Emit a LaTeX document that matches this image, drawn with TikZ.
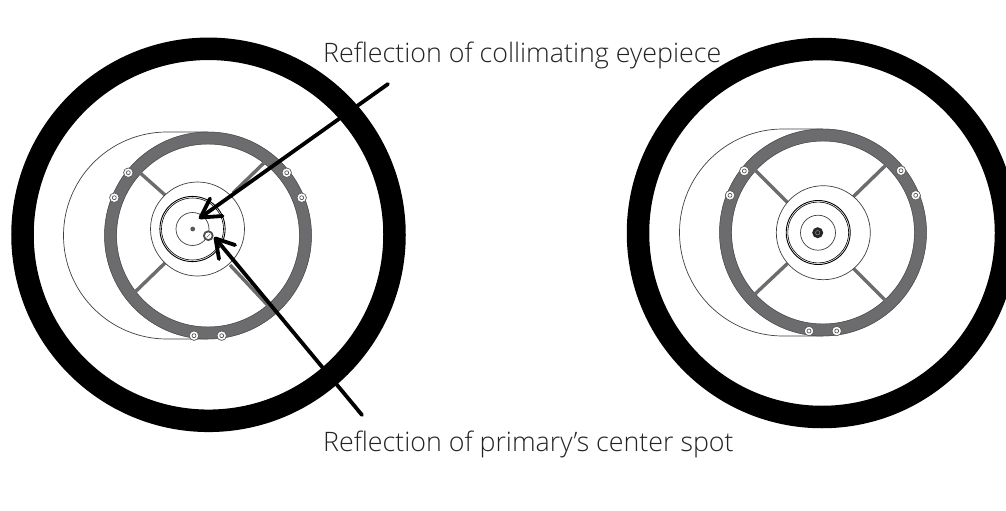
\documentclass[tikz,border=0pt]{standalone}
\usepackage{fontspec}
\setmainfont{Open Sans}[UprightFont=* Light]
\definecolor{ringgray}{RGB}{108,108,110}
\definecolor{labelgray}{RGB}{35,35,35}
\tikzset{
  x=1pt,y=-1pt,
  bigring/.style={draw=black,line width=22.5pt},
  thin line/.style={draw=black!75,line width=0.7pt},
  grayring/.style={draw=ringgray,line width=12.4pt},
  spoke/.style={draw=ringgray,line width=3.4pt},
  screw/.style={circle,draw=black!65,fill=white,line width=0.7pt,minimum size=9.5pt,inner sep=0pt},
  arrowline/.style={draw=black,line width=3.8pt,line cap=round,line join=round},
  lbl/.style={inner sep=0pt,anchor=base west,text=labelgray,font=\fontsize{26.8}{30}\selectfont}
}
\newcommand{\screwat}[2]{\node[screw] at (#1,#2) {}; \draw[black!65,line width=0.7pt] (#1,#2) circle (2);}
\newcommand{\assembly}[7]{%
 \draw[thin line] (#1,#2-103.5) -- (#7,#2-103.5) arc[start angle=-90,end angle=-270,radius=103.5] -- (#1,#2+103.5);
 \fill[white] (#1,#2) circle (103);
 \draw[grayring] (#1,#2) circle (97.5);
 \draw[black!70,line width=0.5pt] (#1,#2) circle (103.5);
 \draw[black!70,line width=0.5pt] (#1,#2) circle (91.5);
}
\begin{document}
\begin{tikzpicture}
\useasboundingbox (0,0) rectangle (1006,511);
\fill[white] (0,0) rectangle (1006,511);
% black tube rings
\draw[bigring] (208.5,234.8) circle (186);
\begin{scope}
\clip (0,0) rectangle (1006,511);
\draw[bigring] (822,233) circle (184);
\end{scope}

% left assembly
\assembly{208}{235.5}{197.5}{229}{192.5}{229}{167}
\coordinate (lsUL) at (138,171); \coordinate (lsULe) at (165,195);
\coordinate (lsLL) at (133,294); \coordinate (lsLLe) at (165,263);
\coordinate (lsUR) at (267,160); \coordinate (lsURe) at (233,193);
\coordinate (lsLR) at (274,312); \coordinate (lsLRe) at (230,265);
\draw[spoke] (lsUL) -- (lsULe);
\draw[spoke] (lsLL) -- (lsLLe);
\draw[spoke] (lsUR) -- (lsURe);
\draw[spoke] (lsLR) -- (lsLRe);
\draw[thin line,fill=white] (197.5,229) circle (47);
\draw[black,line width=0.9pt] (192.5,229) circle (32.6);
\draw[black,line width=0.6pt] (192.5,229) circle (31);
\draw[thin line] (192.5,229) circle (16.5);
\fill[black!65] (192.7,229) circle (2.4);
\draw[black!70,line width=1.8pt,fill=white] (208.3,235.7) circle (4.4);
\draw[black!60,line width=0.6pt] (206.5,237.5) -- (210,234);
\screwat{128.3}{172.7}\screwat{114.3}{197.7}\screwat{286.7}{172.7}\screwat{301.7}{197.7}\screwat{194}{335.7}\screwat{221.7}{335.7}

% right assembly
\assembly{823}{232.5}{823.3}{232.7}{818}{232.5}{783}
\coordinate (rsUL) at (754,169); \coordinate (rsULe) at (788,203);
\coordinate (rsLL) at (754,295); \coordinate (rsLLe) at (788,263);
\coordinate (rsUR) at (887,164); \coordinate (rsURe) at (853,197);
\coordinate (rsLR) at (887,302); \coordinate (rsLRe) at (853,268);
\draw[spoke] (rsUL) -- (rsULe);
\draw[spoke] (rsLL) -- (rsLLe);
\draw[spoke] (rsUR) -- (rsURe);
\draw[spoke] (rsLR) -- (rsLRe);
\draw[thin line,fill=white] (823.3,232.7) circle (47);
\draw[black,line width=0.9pt] (818.2,232.5) circle (32);
\draw[black,line width=0.6pt] (818.2,232.5) circle (30.4);
\draw[thin line] (818,232.7) circle (17.5);
\fill[black!85] (817.7,232.7) circle (5.5);
\draw[black!45,line width=0.5pt] (817.7,232.7) circle (2.2);
\screwat{744.3}{171}\screwat{730}{195.3}\screwat{901}{170.7}\screwat{915.7}{195.3}\screwat{809}{331}\screwat{836.7}{331}

% labels
\node[lbl] (top) at (323,63) {Reflection of collimating eyepiece};
\node[lbl] (bot) at (323,451) {Reflection of primary's center spot};

% arrows
\coordinate (a1s) at (388,84); \coordinate (a1t) at (200.5,217.5);
\coordinate (a1b) at (210,198.5); \coordinate (a1c) at (222.5,216);
\draw[arrowline] (a1s) -- (a1t);
\draw[arrowline] (a1b) -- (a1t) -- (a1c);
\coordinate (a2s) at (362,415); \coordinate (a2t) at (215.5,238.5);
\coordinate (a2b) at (235,245); \coordinate (a2c) at (219,259);
\draw[arrowline] (a2s) -- (a2t);
\draw[arrowline] (a2b) -- (a2t) -- (a2c);
\end{tikzpicture}
\end{document}
